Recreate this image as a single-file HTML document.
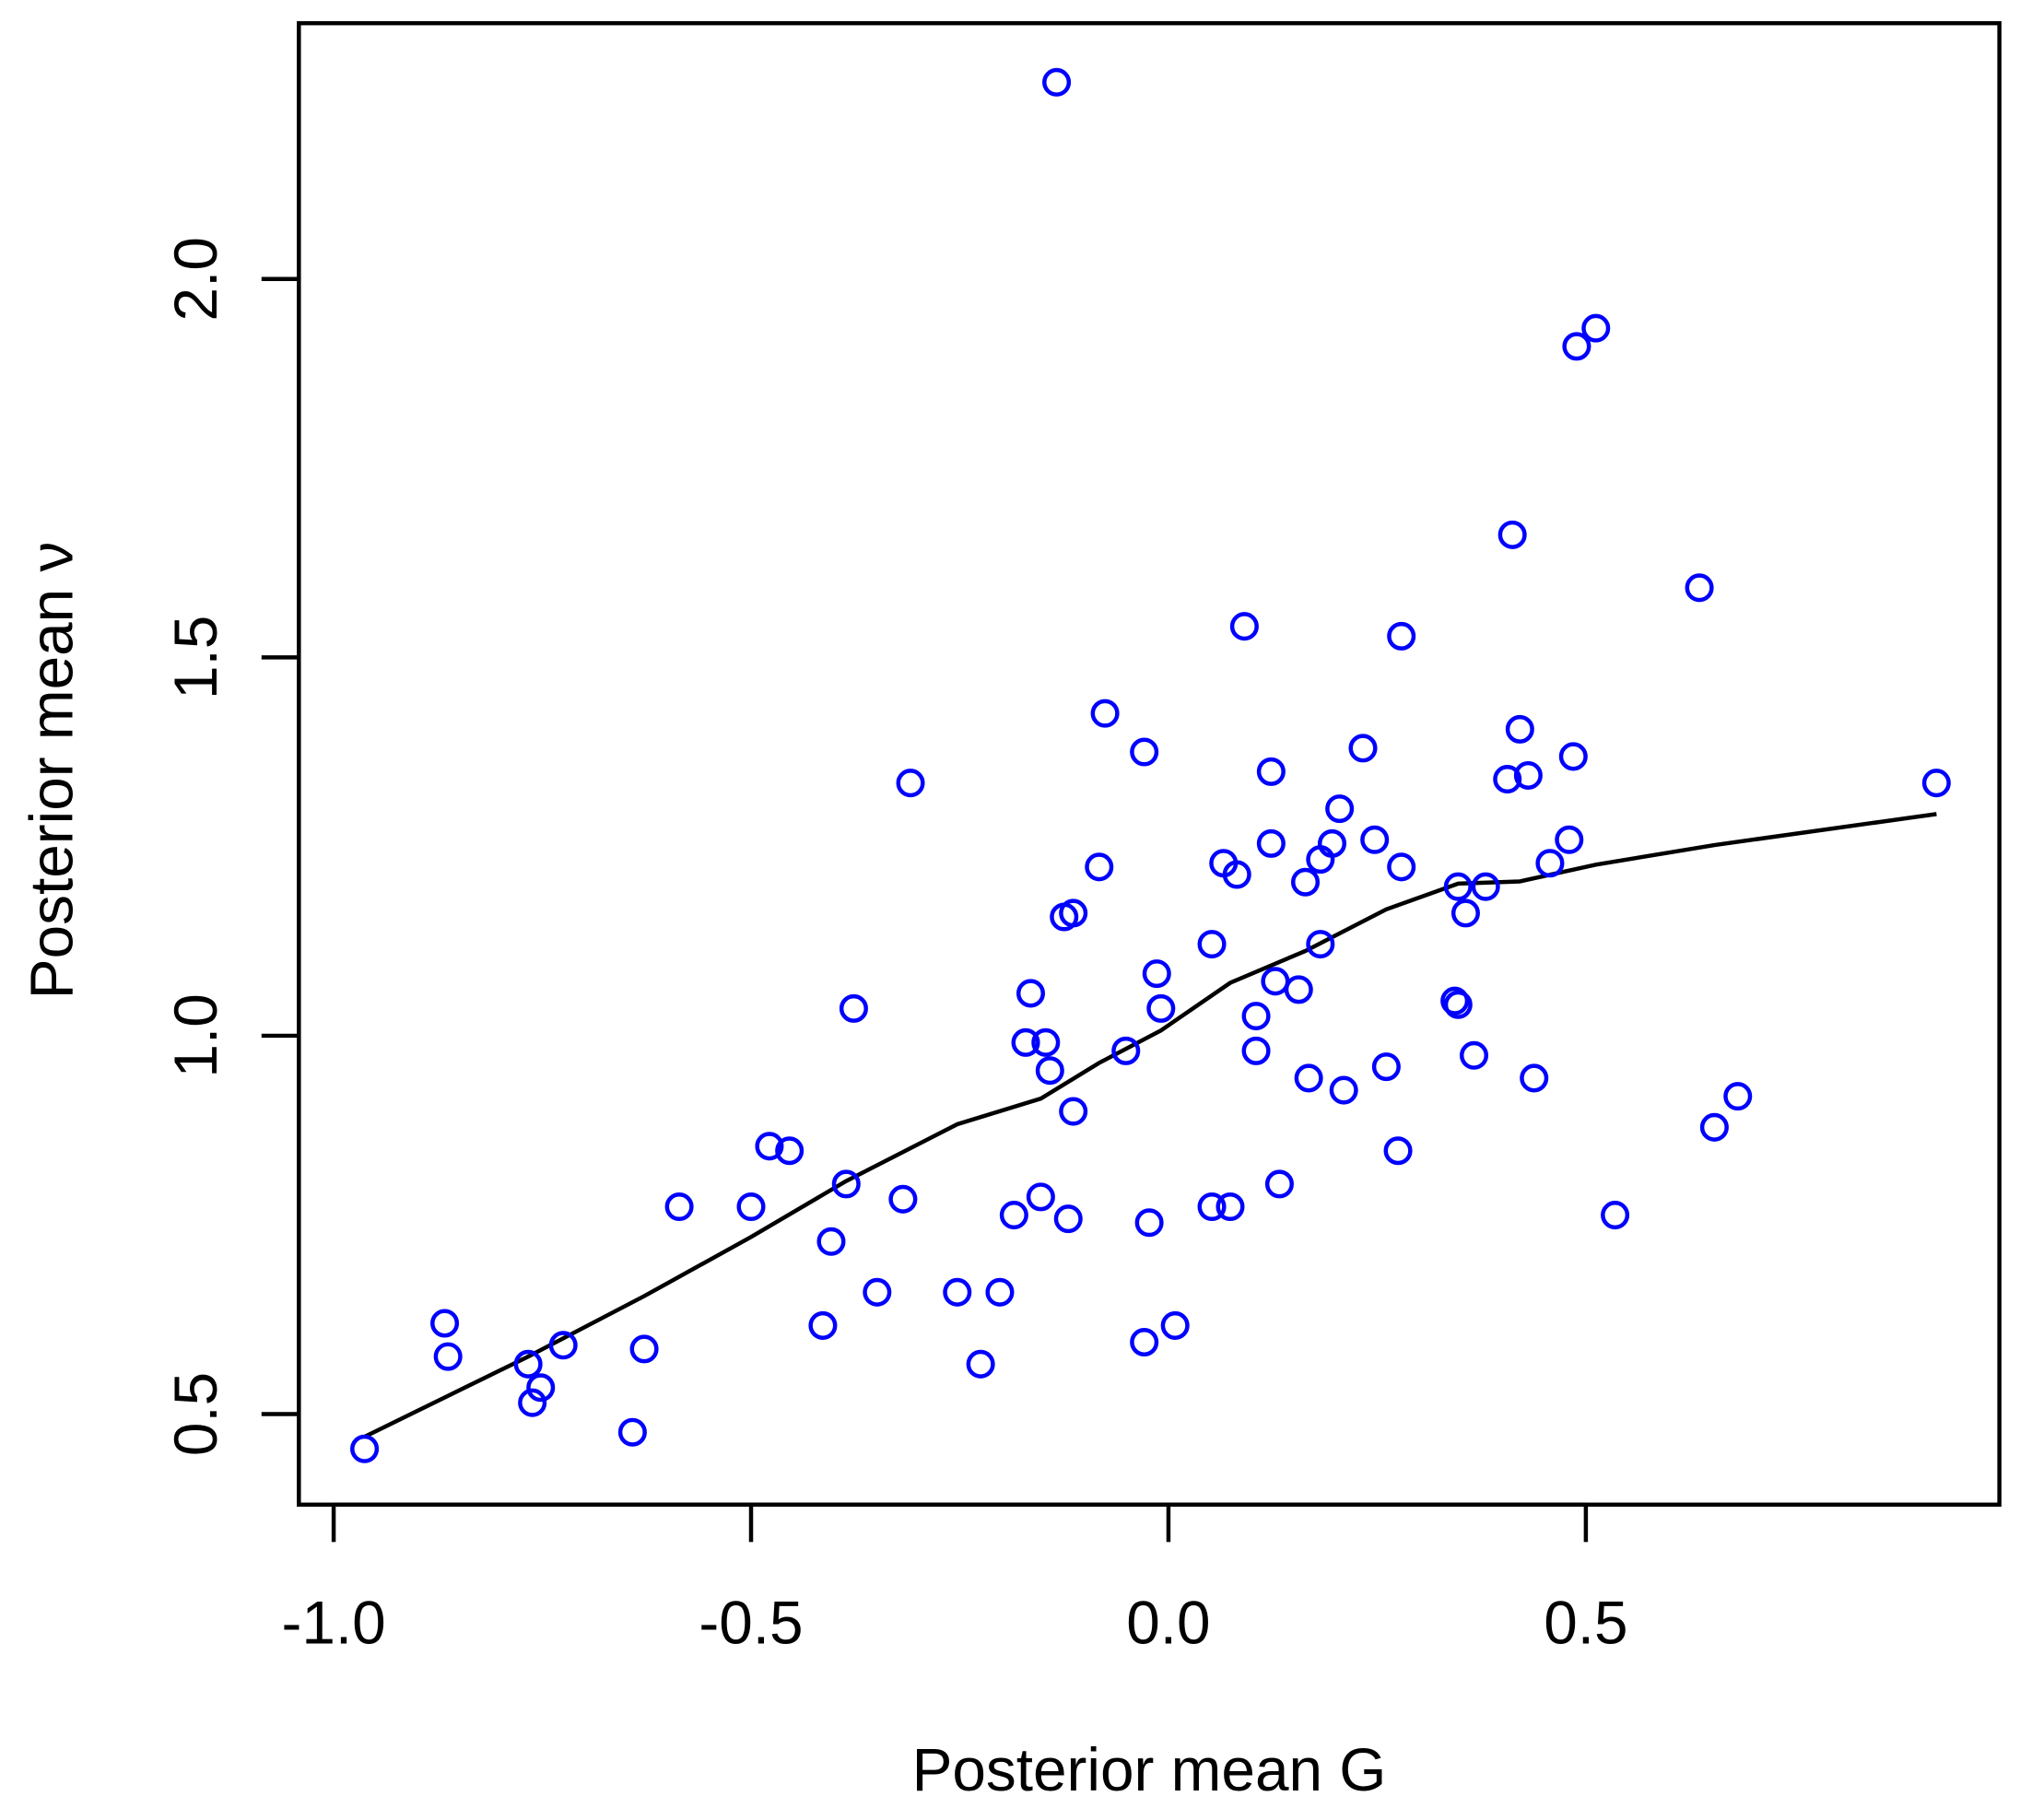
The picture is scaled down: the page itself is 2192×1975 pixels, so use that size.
<!DOCTYPE html>
<html><head><meta charset="utf-8"><style>
html,body{margin:0;padding:0;background:#fff;}
svg{display:block;}
text{font-family:"Liberation Sans",Arial,sans-serif;fill:#000;}
</style></head><body>
<svg id="chart" width="2192" height="1975" viewBox="0 0 1568 1412.8" preserveAspectRatio="none" xmlns="http://www.w3.org/2000/svg">
<rect width="1568" height="1413" fill="#fff"/>
<g id="plot"></g>
</svg>
<script>
const xTicks=[-1.0,-0.5,0.0,0.5];
const xTickLabels=["-1.0","-0.5","0.0","0.5"];
const yTicks=[0.5,1.0,1.5,2.0];
const yTickLabels=["0.5","1.0","1.5","2.0"];
const gValues=[-0.963,-0.867,-0.863,-0.767,-0.762,-0.752,-0.725,-0.642,-0.628,-0.586,-0.5,-0.478,-0.454,-0.414,-0.404,-0.386,-0.377,-0.349,-0.318,-0.309,-0.253,-0.225,-0.202,-0.185,-0.171,-0.165,-0.153,-0.147,-0.142,-0.134,-0.125,-0.120,-0.114,-0.114,-0.083,-0.076,-0.051,-0.029,-0.029,-0.023,-0.014,-0.009,0.008,0.052,0.052,0.066,0.074,0.082,0.091,0.105,0.105,0.123,0.123,0.128,0.133,0.156,0.164,0.168,0.182,0.182,0.196,0.205,0.210,0.233,0.247,0.261,0.275,0.279,0.279,0.343,0.347,0.347,0.356,0.366,0.380,0.406,0.412,0.421,0.431,0.438,0.457,0.480,0.485,0.489,0.512,0.535,0.636,0.654,0.682,0.920];
const vValues=[0.454,0.620,0.576,0.566,0.515,0.535,0.591,0.476,0.586,0.774,0.774,0.854,0.848,0.617,0.728,0.804,1.036,0.661,0.784,1.334,0.661,0.566,0.661,0.763,0.991,1.056,0.787,0.991,0.954,2.260,1.157,0.758,1.162,0.900,1.223,1.426,0.980,1.375,0.595,0.753,1.082,1.036,0.617,1.121,0.774,1.228,0.774,1.213,1.541,1.026,0.980,1.349,1.254,1.072,0.804,1.061,1.203,0.944,1.233,1.121,1.254,1.300,0.928,1.380,1.259,0.959,0.848,1.528,1.223,1.046,1.041,1.197,1.162,0.974,1.197,1.339,1.662,1.405,1.344,0.944,1.228,1.259,1.369,1.911,1.935,0.763,1.592,0.879,0.920,1.334];
const smoothG=[-0.963,-0.867,-0.767,-0.628,-0.5,-0.386,-0.253,-0.153,-0.083,-0.009,0.074,0.164,0.261,0.347,0.421,0.512,0.654,0.920];
const smoothV=[0.470,0.522,0.576,0.656,0.734,0.808,0.883,0.917,0.964,1.007,1.070,1.112,1.167,1.201,1.204,1.226,1.252,1.293];

const NS="http://www.w3.org/2000/svg";
const g=document.getElementById('plot');
const xs=v=>907+v*648;
const ys=v=>804-(v-1)*587.4;
function mk(tag,attrs){const e=document.createElementNS(NS,tag);for(const k in attrs)e.setAttribute(k,attrs[k]);g.appendChild(e);return e;}

const box=mk('rect',{x:232,y:18,width:1320,height:1150,fill:'none',stroke:'#000','stroke-width':3.2});



const xAxis=mk('line',{x1:xs(xTicks[0]),x2:xs(xTicks[xTicks.length-1]),y1:1168,y2:1168,stroke:'#000','stroke-width':3.2});


xTicks.forEach((t,i)=>{
  const l=mk('line',{x1:xs(t),x2:xs(t),y1:1168,y2:1197,stroke:'#000','stroke-width':3.2});
  
  
  const tx=mk('text',{x:xs(t),y:1276,'font-size':47,'text-anchor':'middle'});
  tx.textContent=xTickLabels[i];
  
  
});
yTicks.forEach((t,i)=>{
  const l=mk('line',{x1:203,x2:232,y1:ys(t),y2:ys(t),stroke:'#000','stroke-width':3.2});
  
  
  const tx=mk('text',{x:0,y:0,'font-size':47,'text-anchor':'middle',transform:`translate(168,${ys(t)}) rotate(-90)`});
  tx.textContent=yTickLabels[i];
  
  
});
const xt=mk('text',{x:892,y:1390,'font-size':47,'text-anchor':'middle'});
xt.textContent='Posterior mean G';


const yt=mk('text',{x:0,y:0,'font-size':47,'text-anchor':'middle',transform:'translate(56,598) rotate(-90)'});
yt.textContent='Posterior mean ν';



const pts=smoothG.map((v,i)=>xs(v).toFixed(1)+','+ys(smoothV[i]).toFixed(1)).join(' ');
const pl=mk('polyline',{points:pts,fill:'none',stroke:'#000','stroke-width':3.2});



gValues.forEach((v,i)=>{
  const c=mk('circle',{cx:xs(v),cy:ys(vValues[i]),r:9.5,fill:'none',stroke:'#0000ff','stroke-width':3.2});
  
  
});
</script>
</body></html>
